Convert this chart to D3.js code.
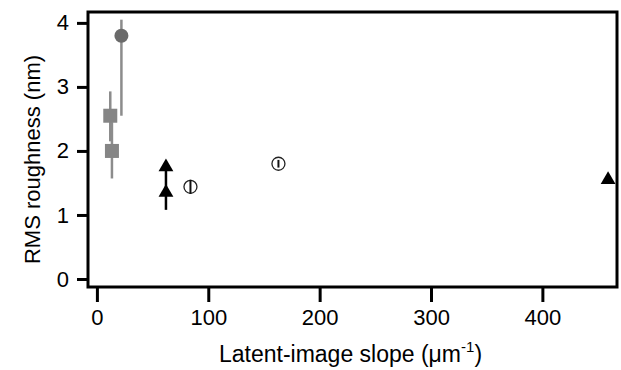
<!DOCTYPE html>
<html>
<head>
<meta charset="utf-8">
<script src="https://cdn.jsdelivr.net/npm/d3@7"></script>
<style>
  body { margin: 0; background: #fff; }
  svg { font-family: "Liberation Sans", Arial, sans-serif; }
</style>
</head>
<body>
<svg id="chart" width="621" height="370"></svg>
<script>
// --- data ---
var xTicks = [0, 100, 200, 300, 400];
var yTicks = [0, 1, 2, 3, 4];

// gray filled circle with error bar
var circleX = [22];
var circleY = [3.8];
var circleLo = [2.55];
var circleHi = [4.05];

// gray squares with error bars
var squareX = [12, 13.5];
var squareY = [2.55, 2.0];
var squareLo = [2.15, 1.57];
var squareHi = [2.93, 2.45];

// black triangles
var triX = [62, 62, 459];
var triY = [1.75, 1.35, 1.55];
var stemX = [62];
var stemLo = [1.08];
var stemHi = [1.72];

// open circles with inner bar
var openX = [84, 163];
var openY = [1.44, 1.80];
var openErr = [0.11, 0.06];

var W = 621, H = 370;
var L = 88, R = 617, T = 12, B = 287;

var x = d3.scaleLinear().domain([-8, 467]).range([L, R]);
var y = d3.scaleLinear().domain([-0.125, 4.17]).range([B, T]);

var svg = d3.select("#chart");

// axes
var yAxis = d3.axisLeft(y).tickValues(yTicks).tickSize(11).tickPadding(8).tickFormat(d3.format("d"));
var xAxis = d3.axisBottom(x).tickValues(xTicks).tickSize(15).tickPadding(7).tickFormat(d3.format("d"));

var gy = svg.append("g").attr("transform", "translate(" + L + ",0)").call(yAxis);
var gx = svg.append("g").attr("transform", "translate(0," + B + ")").call(xAxis);
[gy, gx].forEach(function(g) {
  g.select(".domain").remove();
  g.selectAll(".tick line").attr("stroke", "#000").attr("stroke-width", 3);
  g.selectAll(".tick text").attr("fill", "#000").style("font-size", "22px");
});

// frame
svg.append("rect")
  .attr("x", L).attr("y", T)
  .attr("width", R - L).attr("height", B - T)
  .attr("fill", "none").attr("stroke", "#000").attr("stroke-width", 3);

// axis titles
svg.append("text")
  .attr("transform", "translate(32," + ((T + B) / 2 + 10) + ") rotate(-90)")
  .attr("text-anchor", "middle").attr("dy", "0.35em")
  .style("font-size", "22px")
  .text("RMS roughness (nm)");

var xt = svg.append("text")
  .attr("x", (L + R) / 2 - 2).attr("y", 362)
  .attr("text-anchor", "middle")
  .style("font-size", "23px");
xt.append("tspan").text("Latent-image slope (\u03bcm");
xt.append("tspan").attr("dy", "-10").style("font-size", "15px").text("-1");
xt.append("tspan").attr("dy", "10").text(")");

var gray = "#8c8c8c";

// gray error bars
svg.selectAll(".ebs").data(squareX).enter().append("line")
  .attr("x1", function(d) { return x(d); }).attr("x2", function(d) { return x(d); })
  .attr("y1", function(d, i) { return y(squareLo[i]); })
  .attr("y2", function(d, i) { return y(squareHi[i]); })
  .attr("stroke", gray).attr("stroke-width", 2.5);

svg.selectAll(".ebc").data(circleX).enter().append("line")
  .attr("x1", function(d) { return x(d); }).attr("x2", function(d) { return x(d); })
  .attr("y1", function(d, i) { return y(circleLo[i]); })
  .attr("y2", function(d, i) { return y(circleHi[i]); })
  .attr("stroke", gray).attr("stroke-width", 2.5);

// squares
svg.selectAll(".sq").data(squareX).enter().append("rect")
  .attr("x", function(d) { return x(d) - 7; })
  .attr("y", function(d, i) { return y(squareY[i]) - 7; })
  .attr("width", 14).attr("height", 14)
  .attr("fill", "#858585");

// gray circle
svg.selectAll(".gc").data(circleX).enter().append("circle")
  .attr("cx", function(d) { return x(d); })
  .attr("cy", function(d, i) { return y(circleY[i]); })
  .attr("r", 7)
  .attr("fill", "#6a6a6a");

// triangle stem
svg.selectAll(".stem").data(stemX).enter().append("line")
  .attr("x1", function(d) { return x(d); }).attr("x2", function(d) { return x(d); })
  .attr("y1", function(d, i) { return y(stemLo[i]); })
  .attr("y2", function(d, i) { return y(stemHi[i]); })
  .attr("stroke", "#000").attr("stroke-width", 2.5);

// triangles
var tri = d3.symbol().type(d3.symbolTriangle).size(95);
svg.selectAll(".tri").data(triX).enter().append("path")
  .attr("d", tri)
  .attr("transform", function(d, i) { return "translate(" + x(d) + "," + y(triY[i]) + ")"; })
  .attr("fill", "#000");

// open circles
svg.selectAll(".oc").data(openX).enter().append("circle")
  .attr("cx", function(d) { return x(d); })
  .attr("cy", function(d, i) { return y(openY[i]); })
  .attr("r", 6.5)
  .attr("fill", "#fff").attr("stroke", "#222").attr("stroke-width", 1.3);

svg.selectAll(".oe").data(openX).enter().append("line")
  .attr("x1", function(d) { return x(d); }).attr("x2", function(d) { return x(d); })
  .attr("y1", function(d, i) { return y(openY[i] - openErr[i]); })
  .attr("y2", function(d, i) { return y(openY[i] + openErr[i]); })
  .attr("stroke", "#111").attr("stroke-width", 2);
</script>
</body>
</html>
